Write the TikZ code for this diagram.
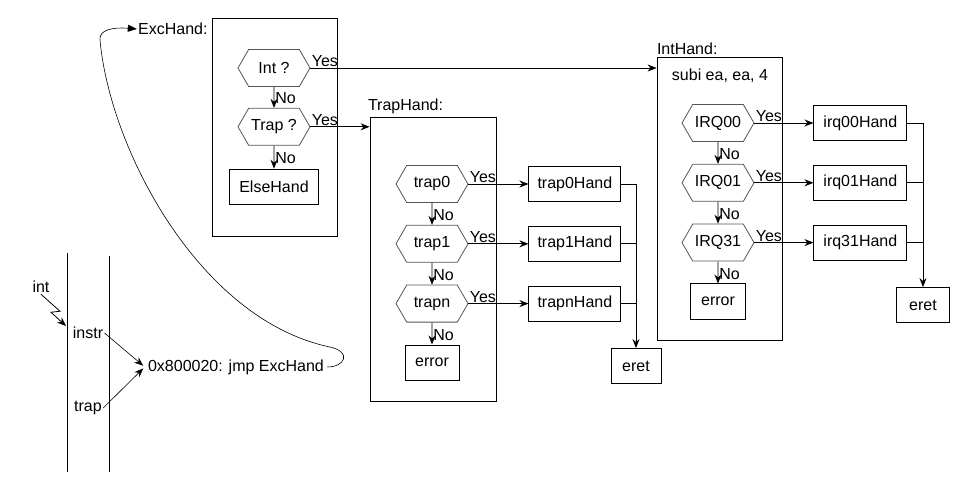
\documentclass[tikz,border=0pt]{standalone}
\usepackage{fontspec}
\setmainfont{Liberation Sans}
\usetikzlibrary{arrows.meta,positioning,shapes.symbols}
\definecolor{hexgray}{RGB}{85,85,85}

\begin{document}
\begin{tikzpicture}[x=1pt,y=-1pt, font=\fontsize{16}{19}\selectfont, line width=0.8pt,
  >={Stealth[length=9pt,width=7pt]},
  box/.style={draw,minimum height=35pt,inner sep=2pt},
  hand/.style={box,minimum width=92pt},
  hexa/.style={signal,signal to=east and west,signal pointer angle=120,draw=hexgray,
    minimum width=72pt,minimum height=37pt,inner sep=0pt},
  frame/.style={draw,inner sep=0pt},
  lbl/.style={inner sep=1pt},
  yes/.style={lbl,anchor=south west,pos=0},
  no/.style={lbl,anchor=west,pos=0.55}]
  \useasboundingbox (0,0) rectangle (975,481);

  % pipeline stage and vector table
  \draw (67,253) -- (67,472);
  \draw (109,256) -- (109,472);
  \node[lbl] (intin) at (41,287) {int};
  \node[lbl] (instr) at (88,333) {instr};
  \node[lbl] (trapin) at (88,408) {trap};
  \node[lbl,inner sep=3pt] (jmp) at (236,367) {0x800020: jmp ExcHand};
  \coordinate (hit) at (66,326);

  % ExcHand
  \node[frame,minimum width=125pt,minimum height=218pt] (exch) at (274.5,127) {};
  \node[lbl,anchor=east] (exc) at (209,29) {ExcHand:};
  \node[hexa] (intq) at (274,68) {Int ?};
  \node[hexa,below=21pt of intq] (trapq) {Trap ?};
  \node[box,minimum width=89pt,below=23pt of trapq] (else) {ElseHand};

  % TrapHand
  \node[frame,minimum width=126pt,minimum height=284pt] (traph) at (433,259) {};
  \node[lbl,anchor=south west] at ([xshift=-3pt,yshift=1pt]traph.north west) {TrapHand:};
  \node[hexa] (tr0) at (432,184) {trap0};
  \node[hexa,below=22pt of tr0] (tr1) {trap1};
  \node[hexa,below=22pt of tr1] (trn) {trapn};
  \node[box,minimum width=54pt,below=22pt of trn] (terr) {error};
  \node[hand,right=60pt of tr0] (tr0h) {trap0Hand};
  \node[hand,right=60pt of tr1] (tr1h) {trap1Hand};
  \node[hand,right=60pt of trn] (trnh) {trapnHand};
  \node[box,minimum width=50pt] (teret) at (636,366) {eret};

  % IntHand
  \node[frame,minimum width=125pt,minimum height=283pt] (inth) at (719.5,198.5) {};
  \node[lbl,anchor=south west] at ([xshift=-1pt,yshift=1pt]inth.north west) {IntHand:};
  \node[lbl] (subi) at (720,76) {subi ea, ea, 4};
  \node[hexa] (irq0) at (718,123) {IRQ00};
  \node[hexa,below=22pt of irq0] (irq1) {IRQ01};
  \node[hexa,below=22pt of irq1] (irq31) {IRQ31};
  \node[box,minimum width=55pt,below=22pt of irq31] (ierr) {error};
  \node[hand,minimum width=93pt,right=59pt of irq0] (irq0h) {irq00Hand};
  \node[hand,minimum width=93pt,right=59pt of irq1] (irq1h) {irq01Hand};
  \node[hand,minimum width=93pt,right=59pt of irq31] (irq31h) {irq31Hand};
  \node[box,minimum width=53pt] (ieret) at (923,305) {eret};

  % entry
  \draw[->] (intin.south) -- ++(19,17) -- ++(-9,1) -- (hit);
  \draw[->,line width=0.6pt,shorten >=2pt] (instr.east) -- (jmp.west);
  \draw[->,line width=0.6pt,shorten >=2pt] (trapin.east) -- (jmp.west);
  \draw[-{Triangle[length=9pt,width=7pt]},line width=0.6pt] (jmp.east)
    .. controls (345,367) and (352,352) .. (330,347)
    .. controls (200,320) and (110,150) .. (100,40)
    .. controls (99,30) and (112,27) .. (exc.west);

  % decisions
  \draw[->] (intq.east) -- node[yes]{Yes} (intq.east -| inth.west);
  \draw[->] (intq) -- node[no]{No} (trapq);
  \draw[->] (trapq.east) -- node[yes]{Yes} (trapq.east -| traph.west);
  \draw[->] (trapq) -- node[no]{No} (else);

  \draw[->] (tr0) -- node[no]{No} (tr1);
  \draw[->] (tr1) -- node[no]{No} (trn);
  \draw[->] (trn) -- node[no]{No} (terr);
  \draw[->] (tr0.east) -- node[yes]{Yes} (tr0h);
  \draw[->] (tr1.east) -- node[yes]{Yes} (tr1h);
  \draw[->] (trn.east) -- node[yes]{Yes} (trnh);
  \draw[->] (tr0h.east) -| (teret.north);
  \draw (tr1h.east) -- (tr1h.east -| teret.north);
  \draw (trnh.east) -- (trnh.east -| teret.north);

  \draw[->] (irq0) -- node[no]{No} (irq1);
  \draw[->] (irq1) -- node[no]{No} (irq31);
  \draw[->] (irq31) -- node[no]{No} (ierr);
  \draw[->] (irq0.east) -- node[yes]{Yes} (irq0h);
  \draw[->] (irq1.east) -- node[yes]{Yes} (irq1h);
  \draw[->] (irq31.east) -- node[yes]{Yes} (irq31h);
  \draw[->] (irq0h.east) -| (ieret.north);
  \draw (irq1h.east) -- (irq1h.east -| ieret.north);
  \draw (irq31h.east) -- (irq31h.east -| ieret.north);
\end{tikzpicture}
\end{document}
